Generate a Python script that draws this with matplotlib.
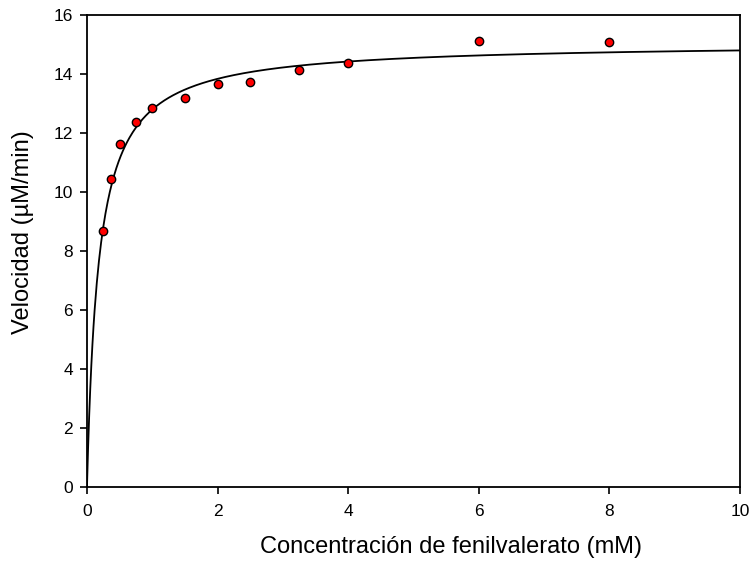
"""Michaelis-Menten plot: velocity vs fenilvalerato concentration."""

import numpy as np
import matplotlib
matplotlib.use("Agg")
import matplotlib.pyplot as plt

plt.rcParams["font.family"] = ["Liberation Sans", "DejaVu Sans"]

conc = [0.25, 0.375, 0.5, 0.75, 1.0, 1.5, 2.0, 2.5, 3.25, 4.0, 6.0, 8.0]
velocity = [8.69, 10.45, 11.63, 12.36, 12.86, 13.2, 13.65, 13.74, 14.14, 14.36, 15.13, 15.08]

# fitted Michaelis-Menten parameters (estimated from the drawn curve)
vmax = 15.06
km = 0.177

x_ticks = [0, 2, 4, 6, 8, 10]
y_ticks = [0, 2, 4, 6, 8, 10, 12, 14, 16]


def main() -> None:
    fig = plt.figure(figsize=(7.53, 5.63), dpi=100)
    ax = fig.add_axes([0.1155, 0.135, 0.867, 0.8384])

    xs = np.linspace(0, 10, 600)
    ax.plot(xs, vmax * xs / (km + xs), color="black", linewidth=1.3, zorder=2)
    ax.plot(conc, velocity, linestyle="none", marker="o", markersize=6,
            markerfacecolor="#ff0000", markeredgecolor="black",
            markeredgewidth=1.0, zorder=3)

    ax.set_xlim(0, 10)
    ax.set_ylim(0, 16)
    ax.set_xticks(x_ticks)
    ax.set_yticks(y_ticks)
    ax.tick_params(direction="out", length=5, width=1.2, labelsize=12.5,
                   top=False, right=False)
    ax.tick_params(axis="x", pad=7)
    ax.tick_params(axis="y", pad=5)
    for s in ax.spines.values():
        s.set_linewidth(1.3)

    ax.set_xlabel("Concentración de fenilvalerato (mM)", fontsize=17)
    ax.set_ylabel("Velocidad (\u00b5M/min)", fontsize=17)
    ax.xaxis.set_label_coords(0.557, -0.104)
    ax.yaxis.set_label_coords(-0.081, 0.54)

    fig.savefig("out.png", dpi=100)


if __name__ == "__main__":
    main()
